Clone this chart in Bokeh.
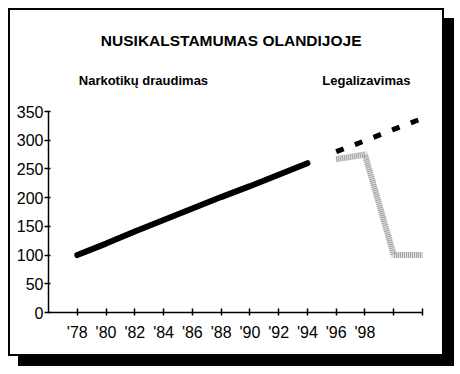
from bokeh.plotting import figure
from bokeh.models import Range1d, FixedTicker, Label
from bokeh.embed import file_html
from bokeh.resources import INLINE

# ---- data ----
title_text = "NUSIKALSTAMUMAS OLANDIJOJE"
label_ban = "Narkotikų draudimas"
label_legal = "Legalizavimas"

ban_years = [78, 80, 82, 84, 86, 88, 90, 92, 94]
ban_values = [100, 120, 141, 161, 181, 201, 220, 240, 260]

trend_years = [96, 98, 100, 102]
trend_values = [280, 299, 319, 338]

legal_years = [96, 98, 100, 102]
legal_values = [267, 275, 100, 100]

x_ticks = [78, 80, 82, 84, 86, 88, 90, 92, 94, 96, 98, 100, 102]
x_tick_labels = ["'78", "'80", "'82", "'84", "'86", "'88", "'90", "'92", "'94", "'96", "'98", "", ""]
y_ticks = [0, 50, 100, 150, 200, 250, 300, 350]

FONT = "Liberation Sans"

p = figure(width=436, height=348, output_backend="svg", toolbar_location=None,
           x_range=Range1d(76, 103.67), y_range=Range1d(0, 525.9),
           min_border_left=38, min_border_bottom=46, min_border_top=0, min_border_right=0)
p.styles = {"border": "2px solid black", "box-shadow": "10px 10px 0 0 black",
            "margin-left": "8px", "margin-top": "8px"}
p.outline_line_color = None
p.grid.visible = False
p.background_fill_color = "white"
p.border_fill_color = "white"

# axes
p.xaxis.ticker = FixedTicker(ticks=x_ticks)
p.xaxis.major_label_overrides = {t: l for t, l in zip(x_ticks, x_tick_labels)}
p.xaxis.bounds = (76, 102)
p.yaxis.ticker = FixedTicker(ticks=y_ticks)
p.yaxis.bounds = (0, 350)
for ax in (p.xaxis[0], p.yaxis[0]):
    ax.axis_line_color = "black"
    ax.axis_line_width = 1.5
    ax.major_tick_line_color = "black"
    ax.major_tick_line_width = 1.5
    ax.minor_tick_line_color = None
    ax.major_label_text_font = FONT
    ax.major_label_text_font_size = "16px"
    ax.major_label_text_color = "black"
p.xaxis.major_tick_in = 4
p.xaxis.major_tick_out = 3
p.xaxis.major_label_standoff = 8
p.yaxis.major_tick_in = 2
p.yaxis.major_tick_out = 4
p.yaxis.major_label_standoff = 1

# series
p.line(ban_years, ban_values, line_color="black", line_width=6, line_cap="round")
p.line(trend_years, trend_values, line_color="black", line_width=5, line_dash="8 12")
p.line(legal_years, legal_values, line_color="#e2e2e2", line_width=6, line_join="miter")
p.line(legal_years, legal_values, line_color="#a0a0a0", line_width=6, line_dash="1 1", line_join="miter")

# texts
p.add_layout(Label(x=88.7, y=473, text=title_text, text_align="center", text_baseline="middle",
                   text_font=FONT, text_font_style="bold", text_font_size="15.5px", text_color="black"))
p.add_layout(Label(x=82.6, y=404, text=label_ban, text_align="center", text_baseline="middle",
                   text_font=FONT, text_font_style="bold", text_font_size="13px", text_color="black"))
p.add_layout(Label(x=98.1, y=404, text=label_legal, text_align="center", text_baseline="middle",
                   text_font=FONT, text_font_style="bold", text_font_size="13px", text_color="black"))

open("out.html", "w").write(file_html(p, INLINE))
